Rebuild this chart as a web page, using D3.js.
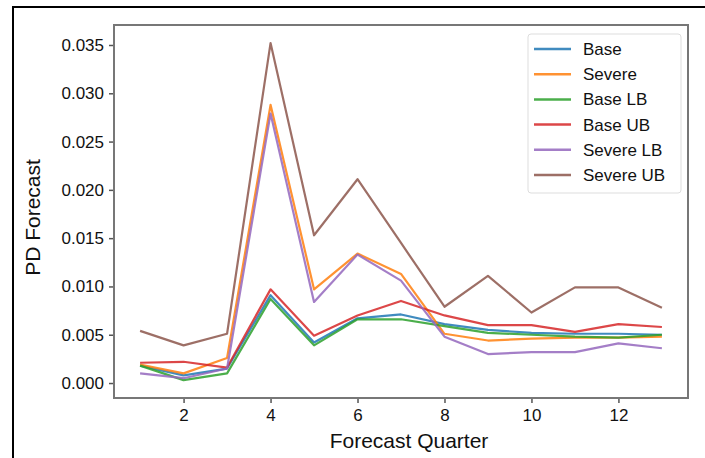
<!DOCTYPE html>
<html>
<head>
<meta charset="utf-8">
<script src="https://cdn.jsdelivr.net/npm/d3@7"></script>
<style>
  body { margin: 0; background: #fff; }
  svg { display: block; font-family: "Liberation Sans", Arial, sans-serif; }
</style>
</head>
<body>
<svg id="chart"></svg>
<script>
const quarters = [1, 2, 3, 4, 5, 6, 7, 8, 9, 10, 11, 12, 13];
const seriesNames = ["Base", "Severe", "Base LB", "Base UB", "Severe LB", "Severe UB"];
const colors = ["#1f77b4", "#ff7f0e", "#2ca02c", "#d62728", "#9467bd", "#8c564b"];

const base     = [0.0018, 0.0008, 0.0015, 0.0091, 0.0042, 0.0067, 0.0071, 0.0061, 0.0055, 0.0052, 0.0051, 0.0051, 0.0050];
const severe   = [0.0019, 0.0010, 0.0026, 0.0288, 0.0097, 0.0134, 0.0113, 0.0051, 0.0044, 0.0046, 0.0047, 0.0047, 0.0048];
const baseLB   = [0.0018, 0.0003, 0.0010, 0.0087, 0.0039, 0.0066, 0.0066, 0.0059, 0.0052, 0.0050, 0.0048, 0.0047, 0.0050];
const baseUB   = [0.0021, 0.0022, 0.0016, 0.0097, 0.0049, 0.0070, 0.0085, 0.0070, 0.0060, 0.0060, 0.0053, 0.0061, 0.0058];
const severeLB = [0.0010, 0.0005, 0.0015, 0.0279, 0.0084, 0.0133, 0.0106, 0.0048, 0.0030, 0.0032, 0.0032, 0.0041, 0.0036];
const severeUB = [0.0054, 0.0039, 0.0051, 0.0352, 0.0153, 0.0211, 0.0145, 0.0079, 0.0111, 0.0073, 0.0099, 0.0099, 0.0078];

const yTicks = [0, 0.005, 0.01, 0.015, 0.02, 0.025, 0.03, 0.035];
const xTicks = [2, 4, 6, 8, 10, 12];

const allSeries = [base, severe, baseLB, baseUB, severeLB, severeUB];

const width = 705, height = 458;
const plot = { left: 114, right: 688, top: 25, bottom: 398 };

const svg = d3.select("#chart").attr("width", width).attr("height", height);

// outer frame (top and left edges only)
svg.append("path")
  .attr("d", `M13,${height} L13,7 L${width},7`)
  .attr("fill", "none")
  .attr("stroke", "#000")
  .attr("stroke-width", 2);

const x = d3.scaleLinear().domain([0.4, 13.6]).range([plot.left, plot.right]);
const y = d3.scaleLinear()
  .domain([-0.00155, 0.03707])
  .range([plot.bottom, plot.top]);

// axes
const xAxis = d3.axisBottom(x).tickValues(xTicks).tickSize(5).tickPadding(6).tickFormat(d3.format("d"));
const yAxis = d3.axisLeft(y).tickValues(yTicks).tickSize(5).tickPadding(5).tickFormat(d3.format(".3f"));

const gx = svg.append("g").attr("transform", `translate(0,${plot.bottom})`).call(xAxis);
const gy = svg.append("g").attr("transform", `translate(${plot.left},0)`).call(yAxis);

[gx, gy].forEach(g => {
  g.select(".domain").remove();
  g.selectAll(".tick line").attr("stroke", "#555").attr("stroke-width", 1.5);
  g.selectAll(".tick text").attr("fill", "#111").style("font-size", "17px");
});

// lines
const line = d3.line().x((d, i) => x(quarters[i])).y(d => y(d));

svg.append("g")
  .selectAll("path")
  .data(allSeries)
  .join("path")
  .attr("d", line)
  .attr("fill", "none")
  .attr("stroke", (d, i) => colors[i])
  .attr("stroke-width", 2.2)
  .attr("stroke-opacity", 0.85)
  .attr("stroke-linejoin", "round");

// plot frame
svg.append("rect")
  .attr("x", plot.left)
  .attr("y", plot.top)
  .attr("width", plot.right - plot.left)
  .attr("height", plot.bottom - plot.top)
  .attr("fill", "none")
  .attr("stroke", "#777")
  .attr("stroke-width", 2);

// axis labels
svg.append("text")
  .attr("x", (plot.left + plot.right) / 2 + 8)
  .attr("y", 448)
  .attr("text-anchor", "middle")
  .style("font-size", "21px")
  .attr("fill", "#111")
  .text("Forecast Quarter");

svg.append("text")
  .attr("transform", `translate(40,${(plot.top + plot.bottom) / 2 + 6}) rotate(-90)`)
  .attr("text-anchor", "middle")
  .style("font-size", "21px")
  .attr("fill", "#111")
  .text("PD Forecast");

// legend
const legend = svg.append("g").attr("transform", "translate(528,34)");
legend.append("rect")
  .attr("width", 153)
  .attr("height", 159)
  .attr("rx", 3)
  .attr("fill", "#fff")
  .attr("fill-opacity", 0.9)
  .attr("stroke", "#ddd")
  .attr("stroke-width", 1);

seriesNames.forEach((name, i) => {
  const row = legend.append("g").attr("transform", `translate(0,${15 + i * 25.2})`);
  row.append("line")
    .attr("x1", 6).attr("x2", 43)
    .attr("stroke", colors[i])
    .attr("stroke-width", 2.5)
    .attr("stroke-opacity", 0.85);
  row.append("text")
    .attr("x", 55)
    .attr("dy", "0.35em")
    .style("font-size", "17px")
    .attr("fill", "#111")
    .text(name);
});
</script>
</body>
</html>
